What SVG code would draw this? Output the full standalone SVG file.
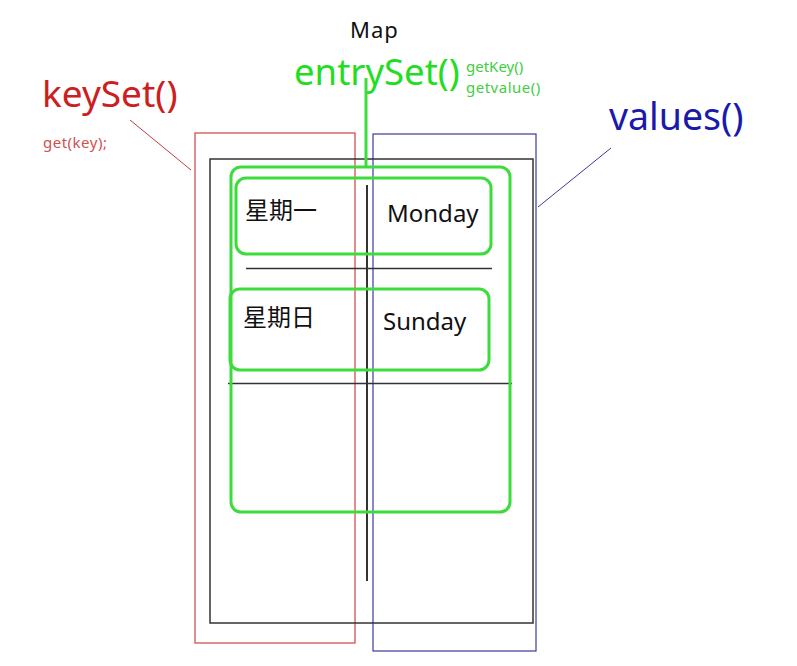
<svg xmlns="http://www.w3.org/2000/svg" width="797" height="666" viewBox="0 0 797 666">
<style>
.t{font-family:"Noto Sans","Open Sans","Noto Sans CJK SC",sans-serif}
.cjk{font-family:"Noto Sans CJK SC","Noto Sans",sans-serif}
.g{fill:none;stroke:#3ddc3d;stroke-width:3}
.k{stroke:#333;fill:none}
</style>
<rect width="797" height="666" fill="#fff"/>
<g id="keyset">
<rect x="195" y="133" width="160" height="510" fill="none" stroke="#d04040" stroke-width="1.2"/>
<text class="t" x="42" y="107" font-size="37" fill="#cc2020">keySet()</text>
<text class="t" x="43" y="148" font-size="15" letter-spacing="0.5" fill="#d05050">get(key);</text>
</g>
<g id="values">
<rect x="373" y="134" width="163" height="517" fill="none" stroke="#3a3a9a" stroke-width="1.2"/>
<text class="t" x="609" y="130" font-size="37.5" fill="#1a1aaa">values()</text>
</g>
<g id="map">
<rect class="k" x="210" y="159" width="323" height="464" stroke-width="1.5"/>
<line class="k" x1="367" y1="185" x2="367" y2="581" stroke-width="2"/>
<line class="k" x1="246" y1="268.5" x2="492" y2="268.5" stroke-width="1.3"/>
<line class="k" x1="228" y1="383.5" x2="512" y2="383.5" stroke-width="1.3"/>
<text class="t" x="350" y="38" font-size="22" letter-spacing="1" fill="#111">Map</text>
</g>
<g id="entryset">
<rect class="g" x="231" y="167" width="279" height="345" rx="10"/>
<text class="t" x="294" y="85" font-size="36.5" fill="#22dd22">entrySet()</text>
<text class="t" x="466" y="72" font-size="15" fill="#44cc44">getKey()</text>
<text class="t" x="466" y="93" font-size="15" letter-spacing="0.5" fill="#44cc44">getvalue()</text>
</g>
<g id="entry1">
<rect class="g" x="236" y="178" width="255" height="76" rx="10"/>
<text class="cjk" x="245" y="219" font-size="24" fill="#111">星期一</text>
<text class="t" x="387" y="222" font-size="24" fill="#111">Monday</text>
</g>
<g id="entry2">
<rect class="g" x="230" y="289" width="259" height="81" rx="10"/>
<text class="cjk" x="243" y="326" font-size="24" fill="#111">星期日</text>
<text class="t" x="383" y="330" font-size="24" fill="#111">Sunday</text>
</g>
<g id="connectors">
<line x1="366" y1="78" x2="366" y2="167" stroke="#3ddc3d" stroke-width="3"/>
<line x1="130" y1="120" x2="191" y2="170" stroke="#c04040" stroke-width="1"/>
<line x1="611" y1="148" x2="538" y2="207" stroke="#3a3a9a" stroke-width="1"/>
</g>
</svg>
